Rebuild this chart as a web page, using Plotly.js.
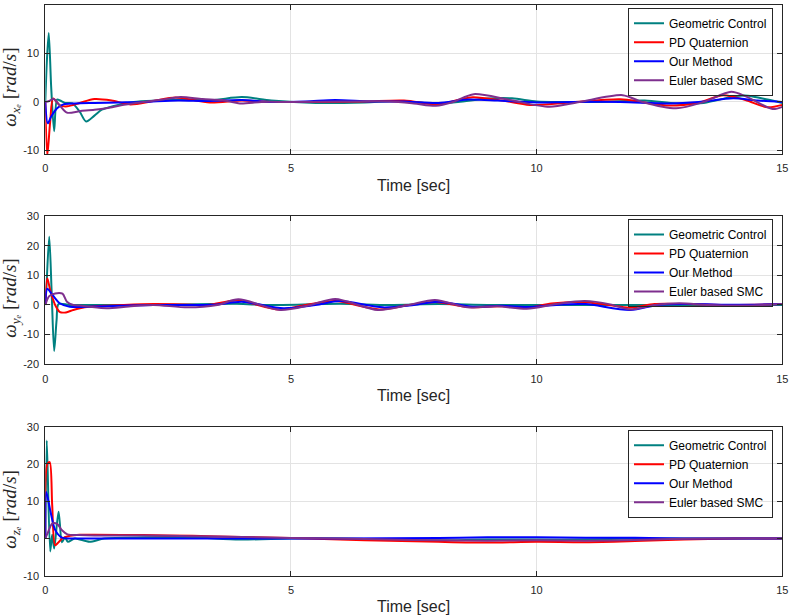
<!DOCTYPE html>
<html>
<head>
<meta charset="utf-8">
<script src="https://cdn.plot.ly/plotly-3.0.1.min.js"></script>
<style>html,body{margin:0;padding:0;background:#fff;}#chart{width:789px;height:616px;}</style>
</head>
<body>
<div id="chart"></div>
<script>
// ---------- data ----------
const seriesNames = ['Geometric Control', 'PD Quaternion', 'Our Method', 'Euler based SMC'];
const seriesColors = ['#008080', '#ff0000', '#0000ff', '#7e2f8e'];
const xTicks = [0, 5, 10, 15];
const yTicks1 = [-10, 0, 10, 20];
const yTicks2 = [-20, -10, 0, 10, 20, 30];
const yTicks3 = [-10, 0, 10, 20, 30];

// Plot 1: omega x_e
const gc1T = [0, 0.03, 0.07, 0.12, 0.18, 0.24, 0.3, 0.4, 0.55, 0.7, 0.83, 1.0, 1.15, 1.4, 1.8, 2.3, 2.8, 3.4, 4.0, 4.6, 5.5, 6.5, 7.2, 7.9, 8.4, 9.0, 9.5, 10.0, 10.6, 11.3, 12.2, 12.84, 13.4, 14.05, 14.3, 14.7, 15];
const gc1V = [0, 8, 14.2, 3, -6, 0.5, 0.3, -0.2, -0.3, -2, -4, -2.8, -1.6, -0.8, 0, 0.3, 0.5, 0.4, 1.0, 0.3, -0.2, -0.1, 0.2, -0.3, 0, 0.7, 0.75, 0.1, 0, 0, 0.3, -0.3, -0.2, 1.2, 1.3, 0.5, -0.2];
const pd1T = [0, 0.04, 0.1, 0.16, 0.3, 0.45, 0.7, 1.0, 1.35, 1.73, 2.2, 2.65, 3.35, 4.0, 4.6, 5.5, 6.5, 7.3, 8.0, 8.4, 8.7, 9.3, 9.86, 10.67, 11.7, 12.2, 12.7, 13.3, 13.8, 14.25, 14.7, 15];
const pd1V = [0, -11, -4, 0.7, -0.7, -0.9, -0.2, 0.6, 0.3, -0.5, 0.2, 0.9, -0.1, 0.3, 0, 0, 0.1, 0.3, -0.5, 0.4, 0.95, 0.3, -0.6, -0.1, 0.55, -0.1, -0.75, -0.1, 1.4, 0.4, -1.1, -0.6];
const om1T = [0, 0.05, 0.12, 0.24, 0.37, 0.6, 1.0, 1.5, 2.0, 2.7, 3.3, 4.0, 4.6, 5.3, 5.9, 6.6, 7.3, 8.0, 8.6, 9.2, 10.0, 10.7, 11.7, 12.7, 13.3, 14.0, 14.5, 15];
const om1V = [0, -4.4, -3, -1.3, -0.5, -0.3, -0.2, -0.1, 0, 0.3, 0.2, 0.4, 0, 0.1, 0.4, 0.1, 0.1, -0.2, 0.5, 0.3, -0.1, 0, 0, -0.3, 0, 0.75, 0.3, 0];
const smc1T = [0, 0.08, 0.17, 0.3, 0.44, 0.7, 1.0, 1.3, 1.6, 2.0, 2.4, 2.75, 3.2, 3.6, 3.96, 4.4, 5.0, 6.0, 7.0, 7.5, 7.95, 8.3, 8.72, 9.45, 10.26, 10.87, 11.75, 12.15, 12.84, 13.4, 13.96, 14.27, 14.8, 15];
const smc1V = [0, 0.2, 0.6, -0.8, -2.2, -1.9, -1.6, -1.2, -0.6, 0, 0.5, 1.0, 0.6, 0.4, -0.3, 0, 0, 0.1, 0.1, -0.3, -0.8, 0, 1.6, 0.4, -1.0, 0, 1.4, 0, -1.3, 0, 2.1, 1.1, -1.45, -1.0];

// Plot 2: omega y_e
const gc2T = [0, 0.02, 0.08, 0.13, 0.18, 0.23, 0.27, 0.5, 1.0, 2.0, 3.9, 4.5, 6.0, 7.0, 8.0, 9.0, 10.0, 11.0, 12.0, 13.0, 14.0, 15];
const gc2V = [0, 5, 23, 4, -15.5, -5, 0.3, 0, 0, 0, 0.4, 0, 0.4, 0, 0.3, 0, 0, 0, 0, 0, 0, 0];
const pd2T = [0, 0.04, 0.1, 0.2, 0.3, 0.42, 0.57, 0.8, 1.2, 1.6, 2.2, 2.8, 3.3, 3.9, 4.75, 5.3, 5.9, 6.8, 7.4, 7.95, 8.6, 9.3, 9.8, 10.3, 10.9, 11.4, 11.9, 12.4, 13.0, 14.0, 15];
const pd2V = [0, 9, 5, 0, -2.4, -2.5, -1.7, -0.8, -0.3, 0, 0.3, 0.2, 0, 1.5, -1.5, 0, 1.3, -1.5, 0, 1.0, -0.7, -0.4, -1.0, 0.5, 1.0, 0.2, -0.9, 0.3, 0.3, 0, 0.3];
const om2T = [0, 0.04, 0.15, 0.3, 0.5, 1.0, 1.5, 2.2, 3.0, 3.5, 4.0, 4.85, 5.5, 6.0, 6.87, 7.5, 8.0, 8.7, 9.3, 9.9, 10.5, 11.0, 11.9, 12.5, 13.2, 14.0, 15];
const om2V = [0, 5.5, 3.3, 0.5, -0.6, -0.5, -0.3, 0, 0, 0.2, 1.1, -1.1, 0, 1.3, -0.8, 0, 1.1, -0.6, -0.3, -0.7, 0.2, 0.3, -1.7, 0.1, 0.3, 0.1, 0.3];
const smc2T = [0, 0.08, 0.2, 0.35, 0.44, 0.57, 0.7, 0.9, 1.25, 1.7, 2.2, 2.9, 3.5, 3.93, 4.78, 5.4, 5.9, 6.77, 7.4, 7.93, 8.6, 9.2, 9.8, 10.4, 10.98, 11.5, 11.9, 12.4, 12.9, 13.5, 14.2, 15];
const smc2V = [0, 3.0, 3.9, 3.8, 1.1, 0, -0.2, -0.6, -1.1, -0.5, 0, -0.8, 0, 1.9, -1.7, 0, 2.0, -1.7, 0, 1.7, -0.8, -0.4, -1.3, 0.3, 1.3, 0.2, -1.5, 0, 0.6, 0, -0.2, 0.3];

// Plot 3: omega z_e
const gc3T = [0, 0.03, 0.1, 0.14, 0.18, 0.27, 0.34, 0.4, 0.46, 0.6, 0.9, 1.2, 2, 3, 3.96, 5, 6, 7, 8, 9, 10, 11, 12, 13, 14, 15];
const gc3V = [0, 26.3, -3.5, 1.0, -2.7, 7.2, -1, 0.3, -0.9, 0, -0.9, 0, 0.3, 0.3, -0.3, 0, 0, -0.3, -0.5, -0.3, -0.3, -0.3, 0, 0, 0, 0];
const pd3T = [0, 0.04, 0.09, 0.14, 0.2, 0.27, 0.35, 0.5, 0.7, 1.0, 2, 3, 4, 5, 6, 7, 8, 9, 10, 11, 12, 13, 14, 15];
const pd3V = [0, 20, 20.5, 9, -1.8, -1.0, 0, 0.7, 1.0, 1.0, 0.9, 0.7, 0.4, 0.1, -0.3, -0.6, -0.9, -1.1, -0.9, -1.0, -0.7, -0.3, 0, 0];
const om3T = [0, 0.02, 0.1, 0.2, 0.34, 0.5, 1, 2, 4, 6, 8, 9, 10, 11, 12, 13, 15];
const om3V = [0, 12.5, 7.6, 2.3, 0.2, 0, 0, 0, 0, 0, 0.1, 0.3, 0.3, 0.2, 0.2, 0, 0];
const smc3T = [0, 0.05, 0.14, 0.24, 0.34, 0.45, 0.7, 1.0, 2, 3, 4, 5, 6, 7, 8, 9, 10, 11, 12, 13, 14, 15];
const smc3V = [0, 1.5, 4.0, 3.9, 2.2, 1.1, 0.9, 0.8, 0.8, 0.6, 0.4, 0.1, 0, -0.3, -0.5, -0.6, -0.5, -0.6, -0.4, -0.1, 0, 0];

// ---------- build ----------
const panels = [
  {t: [gc1T, pd1T, om1T, smc1T], v: [gc1V, pd1V, om1V, smc1V]},
  {t: [gc2T, pd2T, om2T, smc2T], v: [gc2V, pd2V, om2V, smc2V]},
  {t: [gc3T, pd3T, om3T, smc3T], v: [gc3V, pd3V, om3V, smc3V]}
];
const traces = [];
panels.forEach((p, pi) => {
  const sfx = pi === 0 ? '' : String(pi + 1);
  for (let k = 0; k < 4; k++) {
    traces.push({
      type: 'scatter', mode: 'lines',
      x: p.t[k], y: p.v[k],
      name: seriesNames[k],
      line: {color: seriesColors[k], width: 2, shape: 'spline', smoothing: 0.8},
      xaxis: 'x' + sfx, yaxis: 'y' + sfx,
      legend: 'legend' + sfx,
      showlegend: true
    });
  }
});

const W = 789, H = 616;
const xDom = [45.3 / W, 782.3 / W];
const yPix = [[4.7, 154], [216, 364.3], [426.7, 575.7]];
const yRanges = [[-10.7, 20], [-20, 30], [-10, 30]];
const yTickSets = [yTicks1, yTicks2, yTicks3];
const axisColor = '#262626';
const tickFont = {family: 'Liberation Sans, Arial, sans-serif', size: 11, color: axisColor};

function xa(i) {
  return {
    domain: xDom, range: [0, 15], tickvals: xTicks, ticktext: xTicks.map(String),
    anchor: 'y' + (i === 0 ? '' : i + 1),
    showline: true, linecolor: axisColor, linewidth: 1, mirror: 'ticks',
    ticks: 'inside', ticklen: 5, tickcolor: axisColor, tickwidth: 1,
    showgrid: true, gridcolor: '#e3e3e3', gridwidth: 1, zeroline: false,
    tickfont: tickFont, ticklabelstandoff: 4
  };
}
function ya(i) {
  return {
    domain: [1 - yPix[i][1] / H, 1 - yPix[i][0] / H], range: yRanges[i],
    tickvals: yTickSets[i], ticktext: yTickSets[i].map(String),
    anchor: 'x' + (i === 0 ? '' : i + 1),
    showline: true, linecolor: axisColor, linewidth: 1, mirror: 'ticks',
    ticks: 'inside', ticklen: 5, tickcolor: axisColor, tickwidth: 1,
    showgrid: true, gridcolor: '#e3e3e3', gridwidth: 1, zeroline: false,
    tickfont: tickFont, ticklabelstandoff: 3
  };
}
function lg(i) {
  return {
    x: 773 / W, xanchor: 'right', y: 1 - (yPix[i][0] + 3) / H, yanchor: 'top',
    bgcolor: 'rgba(255,255,255,0)', bordercolor: axisColor, borderwidth: 1,
    font: {family: 'Liberation Sans, Arial, sans-serif', size: 12, color: '#000000'},
    tracegroupgap: 0
  };
}
const subs = ['x', 'y', 'z'];
const annotations = [];
for (let i = 0; i < 3; i++) {
  const mid = (yPix[i][0] + yPix[i][1]) / 2;
  annotations.push({
    xref: 'paper', yref: 'paper', x: 11.5 / W, y: 1 - (mid + 8) / H,
    xanchor: 'center', yanchor: 'middle', textangle: -90, showarrow: false,
    text: '<i>ω<sub>' + subs[i] + 'ₑ</sub></i> [<i>rad</i>/<i>s</i>]',
    font: {family: 'Liberation Serif, Times New Roman, serif', size: 19, color: axisColor}
  });
  annotations.push({
    xref: 'paper', yref: 'paper', x: 413.8 / W, y: 1 - (yPix[i][1] + 31) / H,
    xanchor: 'center', yanchor: 'middle', showarrow: false,
    text: 'Time [sec]',
    font: {family: 'Liberation Sans, Arial, sans-serif', size: 16, color: axisColor}
  });
}

const layout = {
  width: W, height: H,
  margin: {l: 0, r: 0, t: 0, b: 0, pad: 0},
  paper_bgcolor: '#ffffff', plot_bgcolor: '#ffffff',
  xaxis: xa(0), xaxis2: xa(1), xaxis3: xa(2),
  yaxis: ya(0), yaxis2: ya(1), yaxis3: ya(2),
  legend: lg(0), legend2: lg(1), legend3: lg(2),
  annotations: annotations,
  hovermode: false
};

// Remove invisible zero-width helper glyphs that Plotly inserts around <sub>,
// moving their baseline reset onto the following visible text.
const ZW = '\u200b';
function cleanZeroWidth(gd) {
  gd.querySelectorAll('svg text').forEach(txt => {
    Array.from(txt.querySelectorAll('tspan')).forEach(ts => {
      if (ts.textContent !== ZW) return;
      const dy = ts.getAttribute('dy');
      const walker = document.createTreeWalker(txt, NodeFilter.SHOW_TEXT);
      let node, passed = false, target = null;
      while ((node = walker.nextNode())) {
        if (ts.contains(node)) { passed = true; continue; }
        if (passed && node.nodeValue.replace(ZW, '').length) { target = node; break; }
      }
      if (target && dy) {
        const wrap = document.createElementNS('http://www.w3.org/2000/svg', 'tspan');
        wrap.setAttribute('dy', dy);
        target.parentNode.insertBefore(wrap, target);
        wrap.appendChild(target);
      }
      ts.remove();
    });
    const walker2 = document.createTreeWalker(txt, NodeFilter.SHOW_TEXT);
    const nodes = [];
    let n;
    while ((n = walker2.nextNode())) nodes.push(n);
    nodes.forEach(tn => {
      if (tn.nodeValue.indexOf(ZW) >= 0) {
        tn.nodeValue = tn.nodeValue.split(ZW).join('');
        if (!tn.nodeValue.length) tn.remove();
      }
    });
    if (!txt.textContent.trim()) txt.remove();
  });
}

Plotly.newPlot('chart', traces, layout, {staticPlot: true, displayModeBar: false}).then(gd => {
  // white panel under each (transparent) legend that hides gridlines but keeps traces visible
  const gbox = gd.getBoundingClientRect();
  const shapes = [];
  gd.querySelectorAll('g.legend rect.bg').forEach(r => {
    const b = r.getBoundingClientRect();
    shapes.push({
      type: 'rect', xref: 'paper', yref: 'paper', layer: 'between',
      x0: (b.left - gbox.left) / W, x1: (b.right - gbox.left) / W,
      y0: 1 - (b.bottom - gbox.top) / H, y1: 1 - (b.top - gbox.top) / H,
      fillcolor: '#ffffff', line: {width: 0}
    });
  });
  return Plotly.relayout(gd, {shapes: shapes});
}).then(gd => cleanZeroWidth(gd));
</script>
</body>
</html>
